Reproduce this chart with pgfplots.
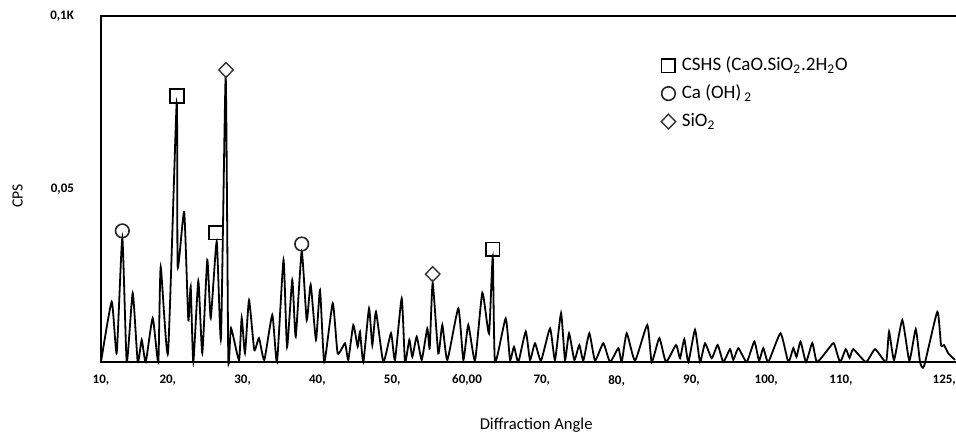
\documentclass[border=0pt]{standalone}
\usepackage{pgfplots}
\usepackage{pgfplotstable}
\pgfplotsset{compat=1.18}
\usepackage{fontspec}
\setmainfont{Carlito}

% XRD trace, 2theta vs CPS (K)
\pgfplotstableread{
x y
11.07 0
12.50 0.0174
13.17 0.0026
13.92 0.0358
14.51 0
15.31 0.0199
15.98 0
16.51 0.0064
17.05 0
17.98 0.0127
18.73 0
19.05 0.0275
20.03 0.0026
21.19 0.0749
21.32 0.0275
22.19 0.0434
22.74 0.0121
23.06 0.0218
23.41 0
24.08 0.0234
24.61 0.0026
25.28 0.0295
25.74 0.0127
26.54 0.0348
27.11 0.0069
27.74 0.0827
28.09 0.0008
28.45 0.0098
29.52 0.0006
29.88 0.0127
30.32 0.0026
30.86 0.0179
31.56 0.0035
32.19 0.0069
32.90 0.0006
33.97 0.0136
34.60 0
35.47 0.0295
35.94 0.0043
36.64 0.0237
37.10 0.0073
37.90 0.0319
38.57 0.0121
39.10 0.0223
39.81 0.0064
40.35 0.0208
40.92 0
42.05 0.0170
42.71 0.0025
43.69 0.0054
44.13 0.0006
44.80 0.0107
45.39 0.0044
45.69 0.0088
46.14 0
46.90 0.0155
47.34 0.0049
47.83 0.0145
48.81 0
49.84 0.0083
50.37 0.0006
51.27 0.0184
51.71 0
52.29 0.0064
52.69 0.0015
53.28 0.0073
53.94 0.0006
54.69 0.0097
55.01 0.0040
55.41 0.0228
56.16 0.0025
56.70 0.0107
57.37 0.0006
58.84 0.0155
59.51 0.0006
60.17 0.0107
61.07 0.0004
62.05 0.0200
62.94 0.0083
63.44 0.0304
63.74 0
65.17 0.0126
65.75 0.0006
66.28 0.0044
66.86 0
67.85 0.0088
68.42 0.0006
69.09 0.0054
69.89 0.0004
71.10 0.0097
71.76 0.0006
72.57 0.0141
73.10 0.0006
73.64 0.0083
74.35 0.0006
75.01 0.0049
75.55 0.0004
76.35 0.0083
77.11 0.0004
78.22 0.0054
79.12 0
80.23 0.0040
80.68 0
81.35 0.0083
82.46 0.0004
84.10 0.0107
84.69 0
85.71 0.0069
86.60 0
87.94 0.0049
88.48 0.0011
89.05 0.0066
89.59 0
90.48 0.0093
91.15 0
91.82 0.0054
92.71 0.0011
93.51 0.0049
94.26 0
95.16 0.0037
95.60 0.0006
96.27 0.0040
97.39 0
98.41 0.0059
99.04 0.0004
99.61 0.0040
100.28 0
101.91 0.0083
102.95 0
103.62 0.0040
104.05 0.0015
104.59 0.0059
105.32 0
106.16 0.0055
106.79 0
108.53 0.0044
109.06 0.0054
109.87 0
110.63 0.0037
111.14 0.0012
111.64 0.0037
113.34 0
114.55 0.0037
116.02 0
116.42 0.0088
117.09 0.0006
118.19 0.0121
119.13 0.0004
119.99 0.0095
120.56 0
121.10 -0.0012
122.87 0.0145
123.37 0.0049
123.77 0.0049
124.34 0.0025
125.24 0.0006
}\xrd

\begin{document}
\begin{tikzpicture}
\useasboundingbox (-50.5pt,-37.5pt) rectangle (427.5pt,181pt);
\begin{axis}[
    scale only axis,
    width=430pt, height=173pt,
    xmin=11.07, xmax=126.04,
    ymin=0, ymax=0.1,
    clip=false,
    axis line style={line width=0.8pt},
    xtick={11.07,20,30,40,50,60,70,80,90,100,110,123.8},
    xticklabels={{10,},{20,},{30,},{40,},{50,},{60,00},{70,},{80,},{90,},{100,},{110,},{125,}},
    ytick={0.05,0.1},
    yticklabels={{0,05},{0,1K}},
    scaled y ticks=false,
    major tick length=0pt,
    tick label style={font=\fontsize{6.5}{7}\selectfont\bfseries},
    xticklabel style={yshift=-3pt},
    yticklabel style={xshift=-10pt},
    xlabel={Diffraction Angle},
    ylabel={CPS},
    every axis x label/.style={at={(rel axis cs:0.506,0)}, yshift=-31.5pt, anchor=center, font=\fontsize{8.3}{10}\selectfont},
    every axis y label/.style={at={(rel axis cs:0,0.48)}, xshift=-41.75pt, rotate=90, anchor=center, font=\fontsize{7.8}{9}\selectfont},
    legend style={at={(0.644,0.900)}, anchor=north west, draw=none, fill=none,
      font=\fontsize{9.5}{11}\selectfont, row sep=3.4pt, cells={anchor=west},
      nodes={inner sep=1pt, text height=6.8pt, text depth=1.8pt}},
    legend image code/.code={\draw[#1] plot coordinates {(0pt,0pt)}; \path (5.5pt,0pt);},
]
\addplot[black, line width=0.9pt, smooth, tension=0.3, forget plot] table {\xrd};

\addplot[only marks, mark=square, mark size=3.4pt, mark options={fill=white, draw=black, line width=0.8pt}]
  coordinates {(21.23,0.0769) (26.40,0.0374) (63.44,0.0326)};
\addlegendentry{CSHS (CaO.SiO\textsubscript{2}.2H\textsubscript{2}O}

\addplot[only marks, mark=o, mark size=3.4pt, mark options={fill=white, draw=black!85, line width=0.8pt}]
  coordinates {(13.92,0.0379) (37.90,0.0341)};
\addlegendentry{Ca (OH)\,\textsubscript{2}}

\addplot[only marks, mark=diamond, mark size=3.7pt, mark options={fill=white, draw=black!80, line width=0.7pt, xscale=1.3}]
  coordinates {(27.78,0.0844) (55.41,0.0254)};
\addlegendentry{SiO\textsubscript{2}}
\end{axis}
\end{tikzpicture}
\end{document}
